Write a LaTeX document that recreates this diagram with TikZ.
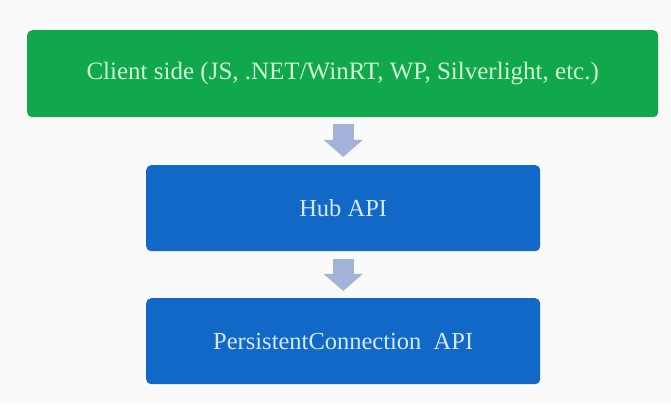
\documentclass[tikz,border=0pt]{standalone}
\usepackage{fontspec}
\setmainfont{Liberation Serif}
\usetikzlibrary{arrows.meta}
\definecolor{bggray}{RGB}{250,250,250}
\definecolor{clientgreen}{RGB}{17,168,76}
\definecolor{apiblue}{RGB}{18,104,198}
\definecolor{flowarrow}{RGB}{162,178,216}
\definecolor{greentext}{RGB}{208,246,214}
\definecolor{bluetext}{RGB}{212,232,255}
\tikzset{
  layerbox/.style={rounded corners=5pt, inner sep=0pt, anchor=north west},
  clientbox/.style={layerbox, fill=clientgreen, text=greentext,
    minimum width=631pt, minimum height=87pt, font=\fontsize{25}{29}\selectfont},
  apibox/.style={layerbox, fill=apiblue, text=bluetext,
    minimum width=394pt, minimum height=86pt, font=\fontsize{24.5}{28}\selectfont},
  flow/.style={draw=flowarrow, line width=21pt,
    -{Triangle[width=38pt,length=17pt,fill=flowarrow]}}
}
\begin{document}
\begin{tikzpicture}[x=1pt,y=1pt]
  \fill[bggray] (0,0) rectangle (671,404);
  \useasboundingbox (0,0) rectangle (671,404);
  % layers, top to bottom
  \node[clientbox] (client) at (27,374) {Client side (JS, .NET/WinRT, WP, Silverlight, etc.)};
  \node[apibox] (hub) at (146,239) {Hub API};
  \node[apibox] (persist) at (146,106) {PersistentConnection\ \ API};
  % block arrows between layers
  \draw[flow, shorten <=7pt, shorten >=8pt] (client.south -| hub.north) -- (hub.north);
  \draw[flow, shorten <=8pt, shorten >=7pt] (hub.south) -- (persist.north);
\end{tikzpicture}
\end{document}
